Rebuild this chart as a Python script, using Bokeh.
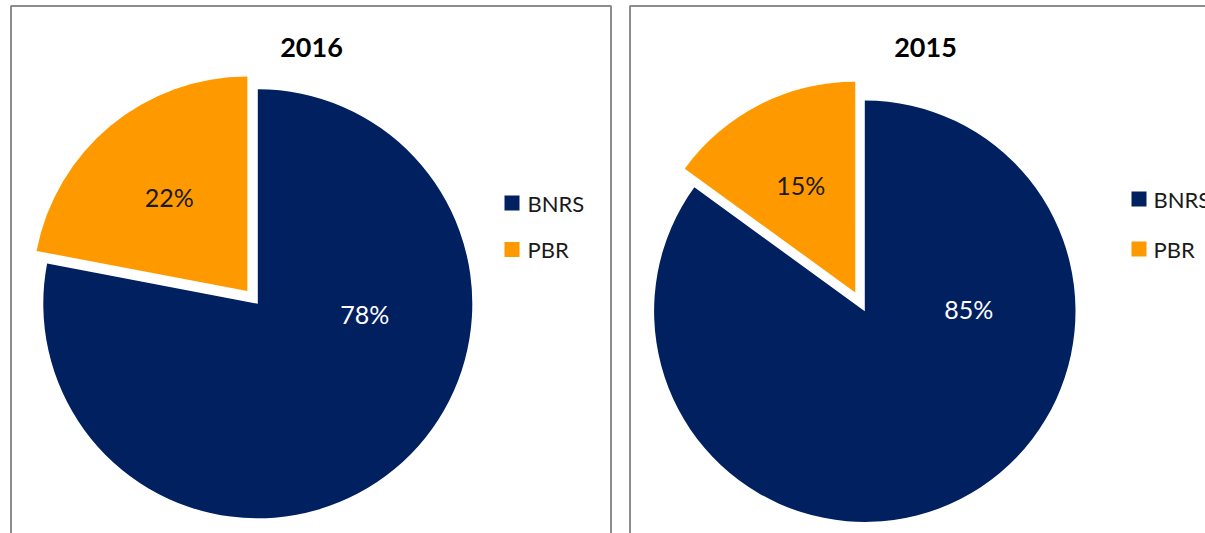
import math
from bokeh.plotting import figure
from bokeh.models import Range1d
from bokeh.core.properties import value
from bokeh.embed import file_html
from bokeh.resources import INLINE

# ---- data ----
years = ["2016", "2015"]
categories = ["BNRS", "PBR"]
share_2016 = [78, 22]
share_2015 = [85, 15]
colors = ["#002060", "#FF9900"]
label_colors = ["#FFFFFF", "#1A1A1A"]

# ---- layout (screen pixels, y downward) ----
W, H = 1205, 533
FONT = "Lato"
panels = [
    dict(year=years[0], values=share_2016, cx=257.3, cy=303.3, r=214.5, explode=16.5,
         box=(10.5, 610.5), title=(311, 47), leg_sq=511.5, leg_tx=527, leg_y=[202.5, 249],
         big_label=(107, 10), small_frac=0.57),
    dict(year=years[1], values=share_2015, cx=864.3, cy=310.7, r=210.7, explode=21,
         box=(629.5, 1300), title=(925, 47), leg_sq=1138.5, leg_tx=1153, leg_y=[198.5, 248.5],
         big_label=(104, -2), small_frac=0.57),
]


def Y(sy):
    return H - sy


p = figure(width=W, height=H, x_range=Range1d(0, W), y_range=Range1d(0, H),
           output_backend="svg", toolbar_location=None, min_border=0,
           margin=(0, 0, 0, 0))
p.xaxis.visible = False
p.yaxis.visible = False
p.grid.visible = False
p.outline_line_color = None
p.background_fill_color = "white"
p.border_fill_color = "white"

for pn in panels:
    # panel border
    p.quad(left=[pn["box"][0]], right=[pn["box"][1]], top=[Y(5.5)], bottom=[-40],
           fill_color=None, line_color="#8C8C8C", line_width=2)
    # title
    p.text(x=[pn["title"][0]], y=[Y(pn["title"][1])], text=[pn["year"]],
           text_font=value(FONT), text_font_style="bold", text_font_size="27px",
           text_align="center", text_baseline="middle", text_color="#000000")
    total = float(sum(pn["values"]))
    cum = 0.0
    for i, v in enumerate(pn["values"]):
        a0 = 90 - cum / total * 360.0
        cum += v
        a1 = 90 - cum / total * 360.0
        mid = math.radians((a0 + a1) / 2)
        if i == 0:
            cx, cy = pn["cx"], Y(pn["cy"])
        else:
            cx = pn["cx"] + pn["explode"] * math.cos(mid)
            cy = Y(pn["cy"]) + pn["explode"] * math.sin(mid)
        p.wedge(x=[cx], y=[cy], radius=pn["r"], start_angle=math.radians(a1),
                end_angle=math.radians(a0), fill_color=colors[i], line_color=None)
        if i == 0:
            lx = pn["cx"] + pn["big_label"][0]
            ly = Y(pn["cy"] + pn["big_label"][1])
        else:
            d = pn["r"] * pn["small_frac"]
            lx = cx + d * math.cos(mid)
            ly = cy + d * math.sin(mid)
        p.text(x=[lx], y=[ly], text=[f"{v}%"], text_font=value(FONT),
               text_font_size="25px", text_align="center", text_baseline="middle",
               text_color=label_colors[i])
    # legend
    for i, c in enumerate(categories):
        p.rect(x=[pn["leg_sq"]], y=[Y(pn["leg_y"][i])], width=15, height=15,
               fill_color=colors[i], line_color=None)
        p.text(x=[pn["leg_tx"]], y=[Y(pn["leg_y"][i])], text=[c], text_font=value(FONT),
               text_font_size="22px", text_align="left", text_baseline="middle",
               text_color="#1A1A1A")

open("out.html", "w").write(file_html(p, INLINE))
